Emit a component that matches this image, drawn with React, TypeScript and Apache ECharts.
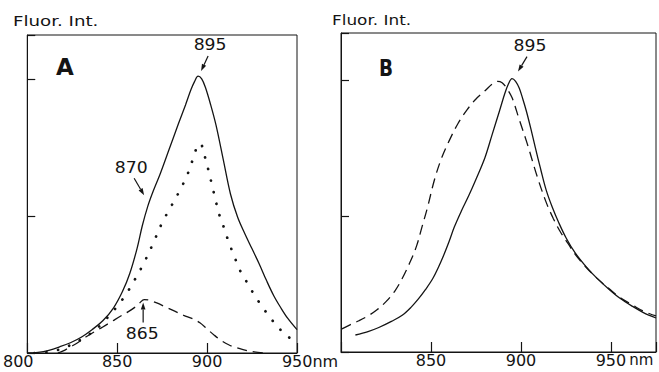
import React, { useEffect, useRef } from 'react';
import * as echarts from 'echarts';

// Emission spectra, wavelength (nm) vs. fluorescence intensity (relative units)
const solidA: [number, number][] = [
  [800, 0], [806, 0.005], [812, 0.02], [818, 0.045], [824, 0.075], [830, 0.115], [836, 0.17],
  [842, 0.235], [848, 0.33], [853, 0.45], [857, 0.58], [861, 0.76], [864, 0.93], [867, 1.07],
  [870, 1.18], [874, 1.31], [879, 1.49], [884, 1.67], [888, 1.81], [891, 1.92], [893, 1.98],
  [895, 2.02], [897, 2.0], [899, 1.94], [902, 1.81], [905, 1.66], [909, 1.41], [913, 1.16],
  [917, 0.99], [921, 0.87], [925, 0.76], [929, 0.65], [933, 0.53], [937, 0.42], [941, 0.33],
  [945, 0.25], [950, 0.17],
];

const dottedA: [number, number][] = [
  [804, 0], [810, 0.005], [815, 0.015], [820, 0.035], [826, 0.07], [832, 0.115], [838, 0.17],
  [844, 0.25], [850, 0.34], [855, 0.43], [860, 0.54], [865, 0.66], [870, 0.8], [875, 0.95],
  [880, 1.07], [885, 1.19], [889, 1.3], [892, 1.41], [894, 1.49], [896, 1.53], [897.5, 1.5],
  [899, 1.42], [901, 1.32], [903, 1.21], [905, 1.1], [907, 1.0], [909.5, 0.91], [912, 0.81],
  [915, 0.71], [918, 0.61], [922, 0.52], [926, 0.43], [930, 0.35], [935, 0.26], [940, 0.18],
  [945, 0.12], [950, 0.07],
];

const dashedA: [number, number][] = [
  [817, 0], [820, 0.015], [824, 0.045], [828, 0.075], [833, 0.12], [838, 0.16], [842, 0.19],
  [847, 0.23], [852, 0.27], [856, 0.3], [860, 0.335], [862.5, 0.365], [865, 0.39], [868, 0.385],
  [872, 0.365], [877, 0.335], [882, 0.305], [887, 0.275], [892, 0.25], [896, 0.22], [900, 0.175],
  [904, 0.13], [908, 0.09], [912, 0.06], [916, 0.04], [920, 0.025], [925, 0.01], [932, 0],
];

const solidB: [number, number][] = [
  [808, 0.125], [815, 0.15], [821, 0.18], [828, 0.225], [834, 0.27], [839, 0.33], [843, 0.39],
  [847, 0.46], [851, 0.54], [854, 0.62], [857, 0.71], [860, 0.81], [863, 0.92], [867, 1.04],
  [871, 1.15], [875, 1.27], [880, 1.43], [884, 1.6], [888, 1.77], [891, 1.9], [893, 1.97],
  [895, 2.01], [897, 1.99], [899, 1.94], [901, 1.86], [903, 1.77], [905.5, 1.64], [908, 1.5],
  [911, 1.34], [914, 1.19], [917.5, 1.06], [921, 0.95], [925, 0.84], [930, 0.73], [936, 0.63],
  [942, 0.545], [949, 0.46], [955, 0.395], [962, 0.335], [968, 0.29], [975, 0.25],
];

const dashedB: [number, number][] = [
  [800.5, 0.17], [805, 0.2], [810, 0.23], [815, 0.265], [820, 0.31], [825, 0.37], [830, 0.45],
  [834, 0.54], [838, 0.65], [842, 0.78], [845, 0.92], [848, 1.06], [852, 1.27], [856, 1.43],
  [860, 1.55], [865, 1.68], [870, 1.78], [875, 1.86], [880, 1.92], [884, 1.97], [887, 1.99],
  [889.5, 1.98], [892, 1.94], [895, 1.87], [899, 1.71], [903.5, 1.53], [909, 1.29], [914, 1.1],
  [918, 0.98], [922, 0.88], [926, 0.8], [930, 0.72], [936, 0.625], [942, 0.545], [949, 0.465],
  [955, 0.4], [962, 0.345], [968, 0.3], [975, 0.265],
];

const xLabelsA = [800, 850, 900, 950];
const xLabelsB = [850, 900, 950];
const unit = 'nm';
const intensityTitle = 'Fluor. Int.';
const panelNames = ['A', 'B'];

// peak markers: panel, label text, point on the curve the arrow points at
const peakMarks: { panel: number; text: string; at: [number, number] }[] = [
  { panel: 0, text: '895', at: [895, 2.02] },
  { panel: 0, text: '870', at: [870, 1.18] },
  { panel: 0, text: '865', at: [865, 0.39] },
  { panel: 1, text: '895', at: [895, 2.01] },
];

const INK = '#141414';
const FONT = 'DejaVu Sans';

function xAxis(gridIndex: number, max: number, labels: number[]) {
  const last = labels[labels.length - 1];
  return {
    type: 'value',
    gridIndex,
    min: 800,
    max,
    interval: 50,
    axisLine: { show: true, lineStyle: { color: INK, width: 1 } },
    axisTick: { show: true, inside: true, length: 10, lineStyle: { color: INK, width: 1.2 } },
    splitLine: { show: false },
    axisLabel: {
      show: true,
      margin: 0,
      showMinLabel: true,
      showMaxLabel: true,
      formatter: (v: number) => {
        if (labels.indexOf(v) < 0) return '';
        if (v === last) return `{s| }{n|${v}}{u|${unit}}`;
        if (v === 800) return `{n|${v}}{t| }`;
        return `{n|${v}}`;
      },
      rich: {
        n: { fontFamily: FONT, fontSize: 16, color: INK },
        u: { fontFamily: FONT, fontSize: gridIndex === 0 ? 16 : 15, color: INK, padding: [0, 0, 0, gridIndex === 0 ? 0 : 3] },
        s: { width: gridIndex === 0 ? 26 : 27 },
        t: { width: 18 },
      },
    },
  };
}

function yAxis(gridIndex: number, max: number) {
  return {
    type: 'value',
    gridIndex,
    min: 0,
    max,
    interval: 1,
    axisLine: { show: true, lineStyle: { color: INK, width: 1 } },
    axisTick: { show: true, inside: true, length: 8, lineStyle: { color: INK, width: 1.2 } },
    axisLabel: { show: false },
    splitLine: { show: false },
  };
}

function line(data: [number, number][], idx: number, kind: 'solid' | 'dotted' | 'dashed') {
  const style: any = { color: INK, width: 1.3 };
  if (kind === 'dotted') {
    style.type = [0.1, 11.8];
    style.width = 2.7;
    style.cap = 'round';
  } else if (kind === 'dashed') {
    style.type = [10, 6];
    style.width = 1.3;
  }
  return {
    type: 'line',
    xAxisIndex: idx,
    yAxisIndex: idx,
    data,
    smooth: 0.35,
    showSymbol: false,
    silent: true,
    lineStyle: style,
  };
}

function arrow(tail: number[], tip: number[]) {
  const dx = tip[0] - tail[0];
  const dy = tip[1] - tail[1];
  const len = Math.hypot(dx, dy) || 1;
  const ux = dx / len;
  const uy = dy / len;
  const hl = 7;
  const hw = 2.3;
  const bx = tip[0] - ux * hl;
  const by = tip[1] - uy * hl;
  return [
    {
      type: 'line',
      silent: true,
      shape: { x1: tail[0], y1: tail[1], x2: bx, y2: by },
      style: { stroke: INK, lineWidth: 1.2 },
    },
    {
      type: 'polygon',
      silent: true,
      shape: {
        points: [
          [tip[0], tip[1]],
          [bx - uy * hw, by + ux * hw],
          [bx + uy * hw, by - ux * hw],
        ],
      },
      style: { fill: INK },
    },
  ];
}

// where each marker's text and arrow sit relative to the marked point (px)
const markLayout = [
  { label: [12, -31], tail: [10, -20], tip: [3, -5] },
  { label: [-22, -23], tail: [-19, -13], tip: [-9, 4] },
  { label: [-2, 34], tail: [-1, 23], tip: [-1, 3] },
  { label: [18, -33], tail: [15, -22], tip: [6, -7] },
];

export default function App() {
  const ref = useRef<HTMLDivElement>(null);

  useEffect(() => {
    if (!ref.current) return;
    const chart = echarts.init(ref.current, null, { renderer: 'svg' });
    chart.setOption({
      animation: false,
      backgroundColor: '#ffffff',
      grid: [
        { left: 27, top: 35, width: 270, height: 318, show: true, borderColor: INK, borderWidth: 1 },
        { left: 341, top: 33, width: 315, height: 319, show: true, borderColor: INK, borderWidth: 1 },
      ],
      xAxis: [xAxis(0, 950, xLabelsA), xAxis(1, 975, xLabelsB)],
      yAxis: [yAxis(0, 2.32), yAxis(1, 2.345)],
      series: [
        line(solidA, 0, 'solid'),
        line(dottedA, 0, 'dotted'),
        line(dashedA, 0, 'dashed'),
        line(solidB, 1, 'solid'),
        line(dashedB, 1, 'dashed'),
      ],
    });

    const graphics: any[] = [
      {
        type: 'text', x: 13, y: 21, scaleX: 1.35, silent: true,
        style: { text: intensityTitle, fontFamily: FONT, fontSize: 13.5, fill: INK, align: 'left', verticalAlign: 'middle' },
      },
      {
        type: 'text', x: 332, y: 21, scaleX: 1.25, silent: true,
        style: { text: intensityTitle, fontFamily: FONT, fontSize: 13.5, fill: INK, align: 'left', verticalAlign: 'middle' },
      },
      {
        type: 'text', x: 56, y: 67, silent: true,
        style: { text: panelNames[0], fontFamily: FONT, fontWeight: 'bold', fontSize: 23, fill: INK, align: 'left', verticalAlign: 'middle' },
      },
      {
        type: 'text', x: 379, y: 68, scaleX: 0.8, silent: true,
        style: { text: panelNames[1], fontFamily: FONT, fontWeight: 'bold', fontSize: 23, fill: INK, align: 'left', verticalAlign: 'middle' },
      },
    ];

    peakMarks.forEach((m, i) => {
      const p = chart.convertToPixel({ gridIndex: m.panel }, m.at) as number[];
      const lay = markLayout[i];
      graphics.push({
        type: 'text',
        x: p[0] + lay.label[0],
        y: p[1] + lay.label[1],
        scaleX: 1.15,
        silent: true,
        style: { text: m.text, fontFamily: FONT, fontSize: 15, fill: INK, align: 'center', verticalAlign: 'middle' },
      });
      graphics.push(
        ...arrow(
          [p[0] + lay.tail[0], p[1] + lay.tail[1]],
          [p[0] + lay.tip[0], p[1] + lay.tip[1]]
        )
      );
    });

    chart.setOption({ graphic: graphics });

    return () => chart.dispose();
  }, []);

  return (
    <div
      ref={ref}
      style={{ position: 'absolute', left: 0, top: 0, width: 659, height: 372, background: '#fff' }}
    />
  );
}
